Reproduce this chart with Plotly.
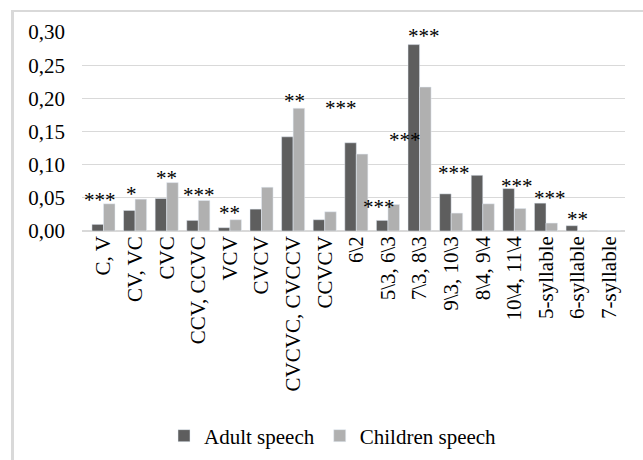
import plotly.graph_objects as go

categories = ["C, V", "CV, VC", "CVC", "CCV, CCVC", "VCV", "CVCV", "CVCVC, CVCCV",
              "CCVCV", "6\\2", "5\\3, 6\\3", "7\\3, 8\\3", "9\\3, 10\\3", "8\\4, 9\\4",
              "10\\4, 11\\4", "5-syllable", "6-syllable", "7-syllable"]
adult = [0.010, 0.031, 0.049, 0.016, 0.005, 0.033, 0.142, 0.017, 0.133, 0.016,
         0.281, 0.056, 0.084, 0.064, 0.042, 0.008, 0.0]
children = [0.041, 0.048, 0.073, 0.046, 0.017, 0.066, 0.185, 0.029, 0.116, 0.040,
            0.217, 0.027, 0.041, 0.034, 0.012, 0.0, 0.0]
y_ticks = [0.0, 0.05, 0.10, 0.15, 0.20, 0.25, 0.30]

# significance marks: category index, horizontal offset (category units), level, text
sig_cat = [0, 1, 2, 3, 4, 6, 8, 9, 10, 10, 11, 13, 14, 15]
sig_dx = [-0.11, -0.10, 0.0, 0.02, -0.02, 0.05, -0.47, -0.27, 0.15, -0.45, 0.09, 0.09, 0.12, 0.0]
sig_y = [0.0482, 0.0567, 0.0817, 0.0552, 0.0286, 0.1972, 0.1866, 0.0376, 0.295, 0.1385,
         0.0888, 0.0692, 0.0512, 0.0196]
sig_text = ["***", "*", "**", "***", "**", "**", "***", "***", "***", "***", "***", "***", "***", "**"]

FONT = "Liberation Serif"

fig = go.Figure()
fig.add_bar(x=categories, y=adult, name="Adult speech", marker_color="#5e5e5e")
fig.add_bar(x=categories, y=children, name="Children speech", marker_color="#b0b0b0")

for c, dx, yv, t in zip(sig_cat, sig_dx, sig_y, sig_text):
    fig.add_annotation(x=c + dx, y=yv, text=t, showarrow=False, xref="x", yref="y",
                       yanchor="middle", font=dict(family=FONT, size=21, color="black"),
                       yshift=-1)

W, H = 643, 460
L, R, T, B = 82, 18, 32, 229
pw, ph = W - L - R, H - T - B

def px(xp):
    return (xp - L) / pw

def py(yp):
    return (H - B - yp) / ph

fig.add_shape(type="line", xref="paper", yref="paper", x0=px(12.5), x1=px(12.5),
              y0=py(11), y1=py(460), line=dict(color="#d9d9d9", width=3))
fig.add_shape(type="line", xref="paper", yref="paper", x0=px(11), x1=px(643),
              y0=py(11), y1=py(11), line=dict(color="#d9d9d9", width=2))

fig.update_layout(
    width=W, height=H,
    margin=dict(l=L, r=R, t=T, b=B, autoexpand=False),
    paper_bgcolor="white", plot_bgcolor="white",
    separators=", ",
    barmode="group", bargap=0.27, bargroupgap=0.0,
    font=dict(family=FONT, size=21, color="black"),
    legend=dict(orientation="h", x=px(333), xanchor="center", y=py(436), yanchor="middle",
                font=dict(family=FONT, size=21, color="black"), itemwidth=30),
    showlegend=True,
)
fig.update_xaxes(tickangle=-90, showgrid=False, showline=False, ticks="", automargin=False,
                 tickfont=dict(family=FONT, size=21, color="black"))
fig.update_yaxes(range=[0, 0.30], tickvals=y_ticks, tickformat=".2f", automargin=False,
                 showgrid=True, gridcolor="#d9d9d9", gridwidth=1,
                 zeroline=True, zerolinecolor="#d9d9d9", zerolinewidth=1.5,
                 showline=False, ticks="", ticklabelstandoff=16,
                 tickfont=dict(family=FONT, size=21, color="black"))

fig.write_html("out.html", config={"displayModeBar": False},
               post_script="document.body.style.margin='0';")
